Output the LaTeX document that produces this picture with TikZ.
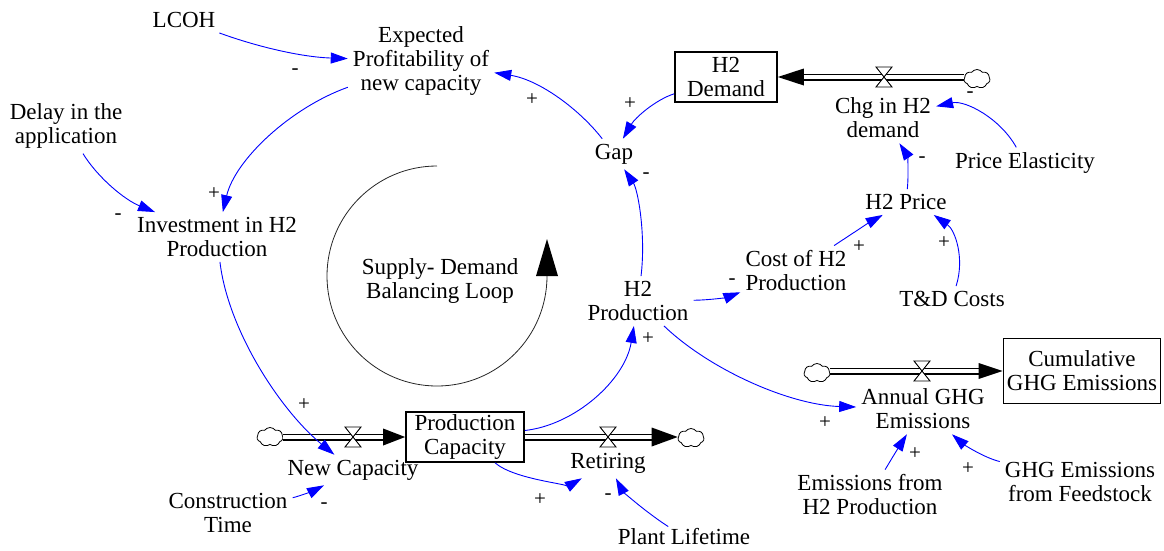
\documentclass[tikz,border=0pt]{standalone}
\usepackage{fontspec}
\setmainfont{Liberation Serif}
\usetikzlibrary{arrows.meta,shapes.symbols}
\begin{document}
\begin{tikzpicture}[x=1pt,y=-1pt,
  every node/.style={font=\fontsize{23}{24}\selectfont},
  lbl/.style={align=center, inner sep=5pt},
  stock/.style={align=center, draw, line width=1.7pt, inner sep=0pt},
  link/.style={draw=blue, line width=0.9pt, -{Triangle[length=17pt,width=11pt]}},
  pol/.style={font=\fontsize{21}{21}\selectfont, inner sep=0pt},
  pipe/.style={draw=black, line width=1.4pt, double=white, double distance=4.2pt},
  valve/.style={draw=black, fill=white, line width=0.9pt},
  cloudy/.style={cloud, cloud puffs=7, cloud puff arc=110, draw, aspect=1.4, minimum width=26pt, minimum height=19pt, inner sep=0pt, line width=0.8pt, fill=white},
  loopline/.style={draw=black!85, line width=0.8pt},
]
\useasboundingbox (0,0) rectangle (1164,550);

% loop
\coordinate (lc) at (437,276);
\draw[loopline] (lc) ++(0,-110) arc[start angle=90, end angle=360, radius=110pt];
\fill (lc) ++(99,0) -- ++(22,0) -- ++(-11,-37) -- cycle;
\node[lbl] (loopt) at (440,281) {Supply- Demand\\Balancing Loop};

% variables
\node[lbl] (lcoh) at (184,20) {LCOH};
\node[lbl] (exp) at (421,61) {Expected\\Profitability of\\new capacity};
\node[lbl] (delay) at (66,126) {Delay in the\\application};
\node[lbl] (inv) at (217,237) {Investment in H2\\Production};
\node[lbl] (gap) at (614,154) {Gap};
\node[stock, minimum width=102pt, minimum height=50pt] (demand) at (726,77) {H2\\Demand};
\node[lbl] (chg) at (883,118) {Chg in H2\\demand};
\node[lbl] (elas) at (1025,163) {Price Elasticity};
\node[lbl] (price) at (906,202) {H2 Price};
\node[lbl] (td) at (952,299) {T\&D Costs};
\node[lbl] (cost) at (796,271) {Cost of H2\\Production};
\node[lbl] (prod) at (638,301) {H2\\Production};
\node[stock, minimum width=118pt, minimum height=50pt] (cap) at (465,437) {Production\\Capacity};
\node[lbl] (newcap) at (353,470) {New Capacity};
\node[lbl] (retire) at (608,463) {Retiring};
\node[lbl] (const) at (228,513) {Construction\\Time};
\node[lbl, inner sep=2pt] (life) at (684,537) {Plant Lifetime};
\node[lbl] (annual) at (923,409) {Annual GHG\\Emissions};
\node[stock, minimum width=157pt, minimum height=65pt] (cum) at (1082,371) {Cumulative\\GHG Emissions};
\node[lbl] (emh2) at (870,495) {Emissions from\\H2 Production};
\node[lbl] (feed) at (1080,482) {GHG Emissions\\from Feedstock};

% clouds
\node[cloudy] (cD) at (977,79) {};
\node[cloudy] (cIn) at (270,437) {};
\node[cloudy] (cOut) at (691,438) {};
\node[cloudy] (cG) at (817,373) {};

% pipes
\coordinate (dStart) at (cD.west |- demand.east);
\draw[pipe] (dStart) -- ([xshift=22pt]demand.east);
\fill (demand.east) -- ++(26,-8.5) -- ++(0,17) -- cycle;

\coordinate (iStart) at (cIn.east |- cap.west);
\draw[pipe] (iStart) -- ([xshift=-18pt]cap.west);
\fill (cap.west) -- ++(-22,-8.5) -- ++(0,17) -- cycle;

\coordinate (oEnd) at (cOut.west |- cap.east);
\draw[pipe] (cap.east) -- ([xshift=-20pt]oEnd);
\fill (oEnd) -- ++(-26,-9.5) -- ++(0,19) -- cycle;

\coordinate (gStart) at (cG.east |- cum.west);
\draw[pipe] (gStart) -- ([xshift=-20pt]cum.west);
\fill (cum.west) -- ++(-24,-8) -- ++(0,16) -- cycle;

% valves
\coordinate (vD) at (884,77);
\coordinate (vIn) at (353,437);
\coordinate (vOut) at (608,437);
\coordinate (vG) at (922,371);
\foreach \v in {vD,vIn,vOut,vG}
  \draw[valve] (\v) ++(-8,-10) -- ++(16,0) -- ++(-16,20) -- ++(16,0) -- cycle;

% links
\draw[link] (lcoh) .. controls (255,46) and (300,57) .. (exp);
\draw[link] (exp) .. controls (290,108) and (235,160) .. (inv);
\draw[link] (delay) .. controls (98,178) and (125,200) .. (inv);
\draw[link] (inv) .. controls (228,330) and (280,410) .. (newcap);
\draw[link] (const) .. controls (300,496) and (315,490) .. (newcap);
\draw[link] (cap) .. controls (515,480) and (572,484) .. (retire);
\draw[link] (life) .. controls (640,508) and (622,490) .. (retire);
\draw[link] (cap) .. controls (575,425) and (625,380) .. (prod);
\draw[link] (prod) .. controls (646,235) and (638,190) .. (gap);
\draw[link] (demand) .. controls (655,100) and (635,118) .. (gap);
\draw[link] (gap) .. controls (580,110) and (540,80) .. (exp);
\draw[link] (prod) .. controls (712,300) and (728,297) .. (cost);
\draw[link] (cost) .. controls (850,235) and (870,222) .. (price);
\draw[link] (td) .. controls (965,258) and (955,230) .. (price.-25);
\draw[link] (price) .. controls (909,172) and (907,155) .. (chg);
\draw[link] (elas) .. controls (1000,118) and (965,100) .. (chg);
\draw[link] (prod) .. controls (710,370) and (790,405) .. (annual);
\draw[link] (emh2) .. controls (895,453) and (902,442) .. (annual);
\draw[link] (feed) .. controls (982,457) and (962,443) .. (annual);

% polarities
\node[pol] (p1) at (295,72) {-};
\node[pol] (p2) at (214,194) {+};
\node[pol] (p3) at (118,217) {-};
\node[pol] (p4) at (304,405) {+};
\node[pol] (p5) at (324,506) {-};
\node[pol] (p6) at (540,500) {+};
\node[pol] (p7) at (608,497) {-};
\node[pol] (p8) at (648,339) {+};
\node[pol] (p9) at (646,176) {-};
\node[pol] (p10) at (630,104) {+};
\node[pol] (p11) at (532,100) {+};
\node[pol] (p12) at (732,282) {-};
\node[pol] (p13) at (859,247) {+};
\node[pol] (p14) at (944,243) {+};
\node[pol] (p15) at (922,160) {-};
\node[pol] (p16) at (970,95) {-};
\node[pol] (p17) at (825,423) {+};
\node[pol] (p18) at (915,454) {+};
\node[pol] (p19) at (968,469) {+};
\end{tikzpicture}
\end{document}
